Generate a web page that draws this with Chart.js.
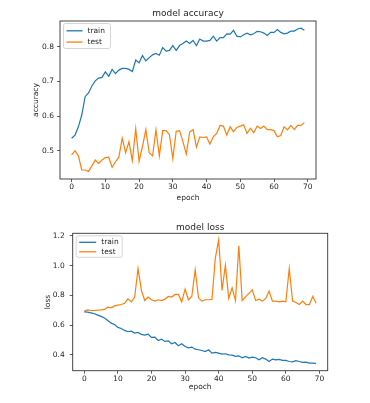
<!DOCTYPE html>
<html>
<head>
<meta charset="utf-8">
<script src="https://cdn.jsdelivr.net/npm/chart.js@4.4.1/dist/chart.umd.min.js"></script>
<style>
  html, body { margin: 0; padding: 0; background: #fff; }
  body { width: 370px; height: 403px; position: relative; overflow: hidden; }
  canvas { position: absolute; left: 0; }
  #acc { top: 0; }
  #loss { top: 205px; }
</style>
</head>
<body>
<canvas id="acc" width="370" height="205"></canvas>
<canvas id="loss" width="370" height="198"></canvas>
<script>
// values, one per epoch
const trainAcc = [0.536, 0.545, 0.569, 0.603, 0.656, 0.667, 0.687, 0.702, 0.710, 0.712,
  0.728, 0.715, 0.735, 0.723, 0.733, 0.738, 0.738, 0.735, 0.729, 0.762,
  0.754, 0.775, 0.760, 0.769, 0.777, 0.781, 0.776, 0.798, 0.788, 0.790,
  0.804, 0.790, 0.804, 0.810, 0.817, 0.810, 0.819, 0.804, 0.823, 0.817,
  0.817, 0.819, 0.831, 0.817, 0.827, 0.827, 0.838, 0.837, 0.848, 0.831,
  0.829, 0.835, 0.840, 0.835, 0.838, 0.845, 0.844, 0.840, 0.833, 0.842,
  0.842, 0.850, 0.842, 0.838, 0.840, 0.846, 0.846, 0.852, 0.854, 0.848];
const testAcc = [0.488, 0.500, 0.485, 0.444, 0.444, 0.440, 0.456, 0.473, 0.463, 0.473,
  0.480, 0.481, 0.452, 0.468, 0.481, 0.536, 0.494, 0.526, 0.471, 0.564,
  0.469, 0.512, 0.561, 0.494, 0.485, 0.560, 0.485, 0.558, 0.558, 0.546,
  0.477, 0.556, 0.558, 0.526, 0.490, 0.554, 0.561, 0.510, 0.540, 0.538,
  0.540, 0.519, 0.540, 0.550, 0.573, 0.571, 0.545, 0.569, 0.555, 0.567,
  0.571, 0.575, 0.550, 0.565, 0.552, 0.571, 0.564, 0.571, 0.561, 0.561,
  0.558, 0.540, 0.544, 0.569, 0.560, 0.573, 0.561, 0.573, 0.573, 0.581];
const trainLoss = [0.689, 0.687, 0.682, 0.676, 0.667, 0.658, 0.647, 0.631, 0.613, 0.604,
  0.584, 0.577, 0.564, 0.555, 0.559, 0.546, 0.550, 0.537, 0.532, 0.539,
  0.517, 0.519, 0.496, 0.505, 0.490, 0.494, 0.474, 0.483, 0.461, 0.474,
  0.456, 0.447, 0.452, 0.438, 0.434, 0.429, 0.422, 0.434, 0.411, 0.416,
  0.411, 0.405, 0.407, 0.400, 0.398, 0.389, 0.393, 0.380, 0.389, 0.378,
  0.384, 0.380, 0.366, 0.380, 0.371, 0.355, 0.371, 0.366, 0.369, 0.362,
  0.362, 0.355, 0.353, 0.360, 0.355, 0.349, 0.351, 0.344, 0.344, 0.342];
const testLoss = [0.694, 0.702, 0.698, 0.698, 0.700, 0.702, 0.705, 0.720, 0.716, 0.729,
  0.734, 0.738, 0.747, 0.776, 0.756, 0.788, 0.980, 0.833, 0.765, 0.788,
  0.770, 0.761, 0.770, 0.765, 0.774, 0.792, 0.788, 0.806, 0.806, 0.756,
  0.841, 0.770, 0.792, 0.971, 0.783, 0.761, 0.770, 0.770, 0.772, 1.050,
  1.173, 0.833, 1.003, 0.779, 0.850, 0.765, 1.133, 0.765, 0.790, 0.813,
  0.837, 0.765, 0.774, 0.761, 0.779, 0.828, 0.761, 0.761, 0.756, 0.761,
  0.756, 0.980, 0.761, 0.752, 0.738, 0.761, 0.738, 0.738, 0.792, 0.747];

const epochs = trainAcc.map((_, i) => i);
const epochTicks = [0, 10, 20, 30, 40, 50, 60, 70];
const accTicks = [0.5, 0.6, 0.7, 0.8];
const lossTicks = [0.4, 0.6, 0.8, 1.0, 1.2];

const BLUE = '#1f77b4';
const ORANGE = '#ff7f0e';
const INK = '#262626';
const FONT = 'DejaVu Sans';

// matplotlib-style box round the plot area, title centred on the axes, legend upper left
const frameLegend = {
  id: 'frameLegend',
  afterDraw(chart, args, opts) {
    const { ctx, chartArea: a } = chart;
    ctx.save();
    ctx.strokeStyle = '#333';
    ctx.lineWidth = 0.9;
    ctx.strokeRect(a.left, a.top, a.right - a.left, a.bottom - a.top);

    ctx.fillStyle = INK;
    ctx.font = '9px "' + FONT + '"';
    ctx.textAlign = 'center';
    ctx.textBaseline = 'middle';
    ctx.fillText(opts.title, (a.left + a.right) / 2, opts.titleY);

    const x = a.left + opts.dx, y = a.top + opts.dy;
    ctx.fillStyle = 'rgba(255,255,255,0.8)';
    ctx.strokeStyle = '#cccccc';
    ctx.lineWidth = 0.8;
    ctx.beginPath();
    ctx.roundRect(x, y, opts.w, opts.h, 2);
    ctx.fill();
    ctx.stroke();

    ctx.font = '7.5px "' + FONT + '"';
    ctx.textAlign = 'left';
    chart.data.datasets.forEach((ds, i) => {
      const ry = y + opts.first + i * opts.row;
      ctx.strokeStyle = ds.borderColor;
      ctx.lineWidth = 1.3;
      ctx.beginPath();
      ctx.moveTo(x + 3, ry);
      ctx.lineTo(x + 3 + opts.line, ry);
      ctx.stroke();
      ctx.fillStyle = INK;
      ctx.fillText(ds.label, x + 3 + opts.line + 5, ry);
    });
    ctx.restore();
  }
};

function makeChart(id, cfg) {
  const points = arr => arr.map((v, i) => ({ x: epochs[i], y: v }));
  return new Chart(document.getElementById(id), {
    type: 'line',
    data: {
      datasets: [
        { label: 'train', data: points(cfg.train), borderColor: BLUE, borderWidth: 1.2, pointRadius: 0, tension: 0, fill: false },
        { label: 'test', data: points(cfg.test), borderColor: ORANGE, borderWidth: 1.2, pointRadius: 0, tension: 0, fill: false }
      ]
    },
    options: {
      responsive: false,
      animation: false,
      devicePixelRatio: 1,
      layout: { padding: { left: 0, right: cfg.padRight, top: cfg.padTop, bottom: 0 } },
      plugins: {
        legend: { display: false },
        tooltip: { enabled: false },
        title: { display: false },
        frameLegend: cfg.legend
      },
      scales: {
        x: {
          type: 'linear',
          min: -3.45, max: 72.45,
          afterFit: s => { s.height = cfg.xHeight; },
          afterBuildTicks: s => { s.ticks = epochTicks.map(v => ({ value: v })); },
          grid: { display: true, drawOnChartArea: false, drawTicks: true, tickLength: 3, color: '#333', lineWidth: 0.8 },
          border: { display: false },
          ticks: { color: INK, font: { family: FONT, size: 7.5 }, padding: 1, maxRotation: 0, autoSkip: false },
          title: { display: true, text: 'epoch', color: INK, font: { family: FONT, size: 7.5 }, padding: { top: 0, bottom: cfg.xTitleBottom } }
        },
        y: {
          min: cfg.yMin, max: cfg.yMax,
          afterFit: s => { s.width = cfg.yWidth; },
          afterBuildTicks: s => { s.ticks = cfg.yTicks.map(v => ({ value: v })); },
          grid: { display: true, drawOnChartArea: false, drawTicks: true, tickLength: 3, color: '#333', lineWidth: 0.8 },
          border: { display: false },
          ticks: { color: INK, font: { family: FONT, size: 7.5 }, padding: cfg.yPad, autoSkip: false, callback: v => v.toFixed(1) },
          title: { display: true, text: cfg.yLabel, color: INK, font: { family: FONT, size: 7.5 }, padding: { top: cfg.yTitleTop, bottom: 0 } }
        }
      }
    },
    plugins: [frameLegend]
  });
}

makeChart('acc', {
  yLabel: 'accuracy',
  train: trainAcc, test: testAcc,
  yMin: 0.418, yMax: 0.875, yTicks: accTicks,
  padRight: 54, padTop: 21, yWidth: 60, xHeight: 26,
  xTitleBottom: 2.5, yTitleTop: 32, yPad: 3,
  legend: { title: 'model accuracy', titleY: 14, dx: 3.5, dy: 2.5, w: 47, h: 25, first: 7.3, row: 11.3, line: 16 }
});

makeChart('loss', {
  yLabel: 'loss',
  train: trainLoss, test: testLoss,
  yMin: 0.293, yMax: 1.217, yTicks: lossTicks,
  padRight: 42.3, padTop: 28.3, yWidth: 72.7, xHeight: 32.3,
  xTitleBottom: 11.8, yTitleTop: 43.8, yPad: 5,
  legend: { title: 'model loss', titleY: 22.7, dx: 3.5, dy: 2.5, w: 46, h: 21.5, first: 6.5, row: 9.5, line: 17 }
});
</script>
</body>
</html>
